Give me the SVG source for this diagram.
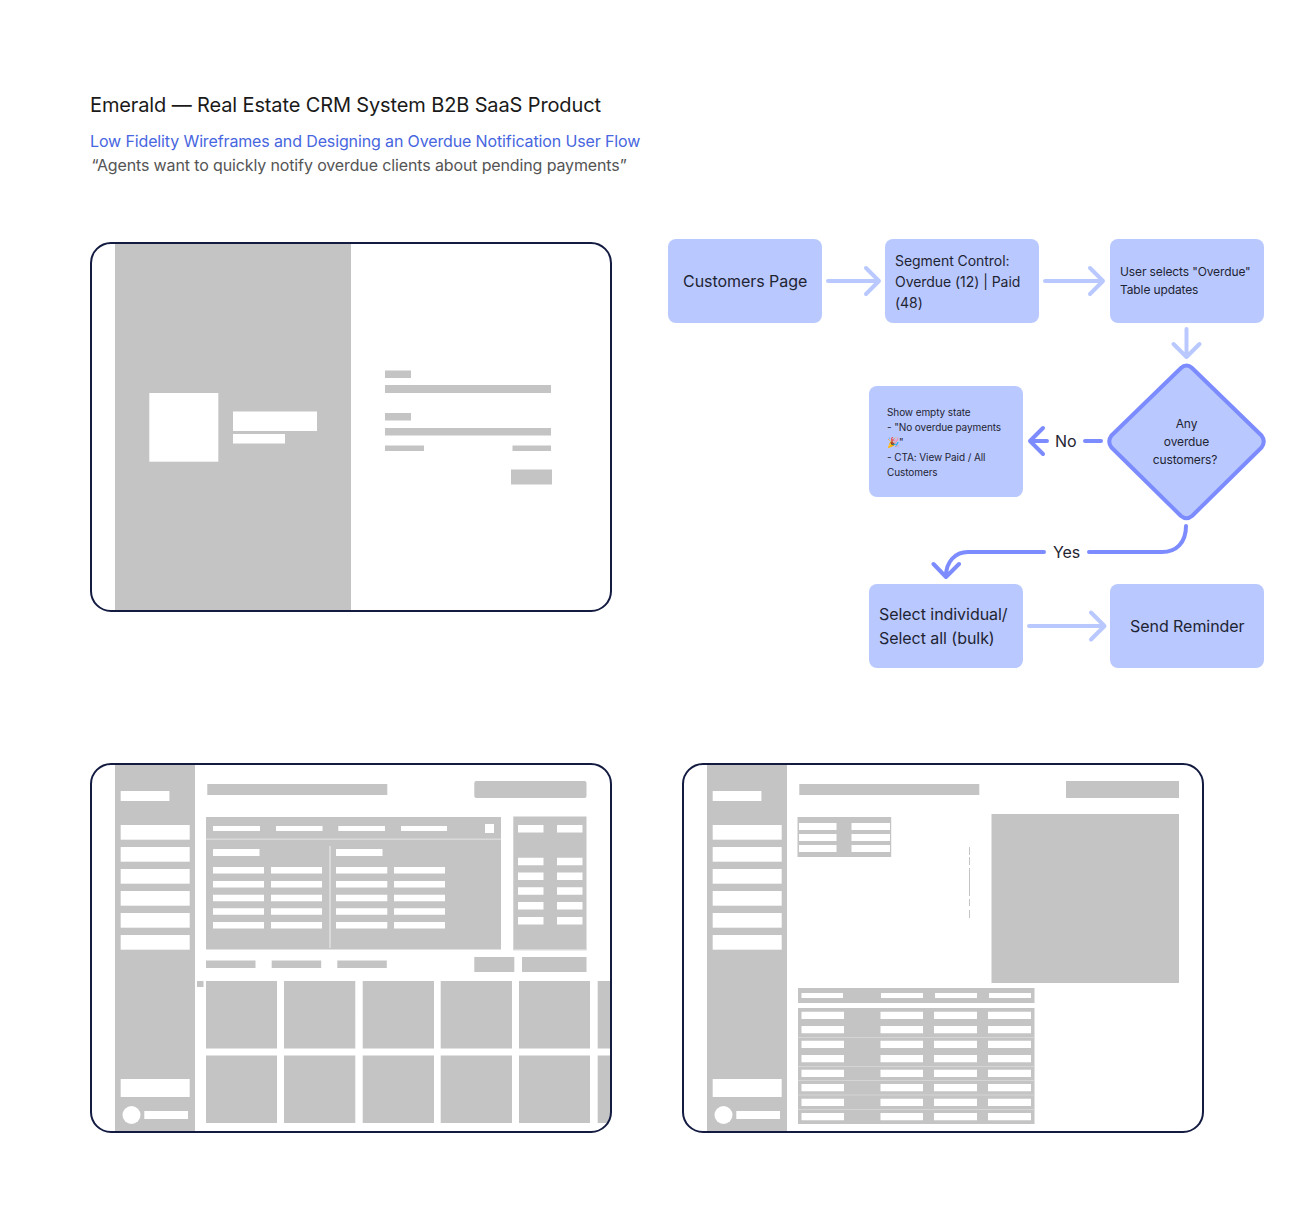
<svg xmlns="http://www.w3.org/2000/svg" width="1294" height="1223" viewBox="0 0 1294 1223">
<style>
text{font-family:Inter,"Noto Sans",sans-serif;fill:#1f2433}
.g{fill:#c4c4c4}.w{fill:#fff}.l{fill:#d9d9d9}
.frame{fill:none;stroke:#141b41;stroke-width:2}
.box{fill:#b9c9ff}
.lite,.dark{fill:none;stroke-width:4;stroke-linecap:round;stroke-linejoin:round}
.lite{stroke:#b9c9ff}.dark{stroke:#7c8cff}
.t16{font-size:16px;letter-spacing:-.05px}.t14{font-size:14px;letter-spacing:-.05px}.t12{font-size:12px;letter-spacing:-.12px}.t10{font-size:10px;letter-spacing:-.09px}
.head{letter-spacing:-.13px}
</style>
<defs>
<clipPath id="f2"><rect x="91" y="764" width="520" height="368" rx="20"/></clipPath>
<g id="nav">
<rect class="g" x="115" y="764" width="80" height="368"/>
<rect class="w" x="120.7" y="791" width="48.7" height="10"/>
<rect class="w" x="120.7" y="825" width="69" height="14.7"/>
<rect class="w" x="120.7" y="847" width="69" height="14.7"/>
<rect class="w" x="120.7" y="869" width="69" height="14.7"/>
<rect class="w" x="120.7" y="891" width="69" height="14.7"/>
<rect class="w" x="120.7" y="913" width="69" height="14.7"/>
<rect class="w" x="120.7" y="935" width="69" height="14.7"/>
<rect class="w" x="120.7" y="1079" width="69" height="18"/>
<circle class="w" cx="131.5" cy="1115" r="9"/>
<rect class="w" x="144.3" y="1111" width="43.7" height="8"/>
</g>
</defs>
<rect width="1294" height="1223" fill="#fff"/>

<g id="heading">
<text x="90" y="112" font-size="20" class="head" style="fill:#1a1a1a">Emerald — Real Estate CRM System B2B SaaS Product</text>
<text x="90" y="147" font-size="16" class="head" style="fill:#4766e0">Low Fidelity Wireframes and Designing an Overdue Notification User Flow</text>
<text x="91.500" y="171" font-size="16" class="head" style="fill:#555">“Agents want to quickly notify overdue clients about pending payments”</text>
</g>

<g id="wireframe-login">
<rect class="g" x="115" y="243" width="236" height="368"/>
<rect class="w" x="149.3" y="393" width="69" height="68.7"/>
<rect class="w" x="233" y="411.5" width="84" height="19.5"/>
<rect class="w" x="233" y="434" width="52" height="9.5"/>
<rect class="g" x="385" y="370.5" width="26" height="7.5"/>
<rect class="g" x="385" y="385" width="166" height="8"/>
<rect class="g" x="385" y="413" width="26" height="7.5"/>
<rect class="g" x="385" y="428" width="166" height="7.5"/>
<rect class="g" x="385" y="445.5" width="39" height="5.5"/>
<rect class="g" x="512.5" y="445.5" width="38.5" height="5.5"/>
<rect class="g" x="511" y="469.5" width="41" height="15"/>
<rect class="frame" x="91" y="243" width="520" height="368" rx="20"/>
</g>

<g id="wireframe-dashboard">
<g clip-path="url(#f2)">
<use href="#nav"/>
<rect class="g" x="207.300" y="784" width="180" height="11"/>
<rect class="g" x="474.300" y="781" width="112.200" height="17" rx="2"/>
<rect class="g" x="206" y="817" width="295" height="132.500"/>
<rect class="w" x="213" y="826" width="47" height="5"/><rect class="w" x="276" y="826" width="46.500" height="5"/><rect class="w" x="338.300" y="826" width="46.700" height="5"/><rect class="w" x="401" y="826" width="46" height="5"/>
<rect class="w" x="485" y="824" width="9" height="9"/>
<rect class="l" x="206" y="838.500" width="295" height="1.500"/>
<rect class="l" x="329" y="846" width="2" height="102"/>
<rect class="w" x="213" y="849" width="46.500" height="7"/><rect class="w" x="336" y="849" width="46.500" height="7"/>
<path class="w" d="M213 867h51v6.500h-51zM271 867h51v6.500h-51zM336 867h51.300v6.500h-51.300zM394 867h51v6.500h-51zM213 881h51v6.500h-51zM271 881h51v6.500h-51zM336 881h51.300v6.500h-51.300zM394 881h51v6.500h-51zM213 894.700h51v6.500h-51zM271 894.700h51v6.500h-51zM336 894.700h51.300v6.500h-51.300zM394 894.700h51v6.500h-51zM213 908.300h51v6.500h-51zM271 908.300h51v6.500h-51zM336 908.300h51.300v6.500h-51.300zM394 908.300h51v6.500h-51zM213 922h51v6.500h-51zM271 922h51v6.500h-51zM336 922h51.300v6.500h-51.300zM394 922h51v6.500h-51z"/>
<rect class="g" x="513.300" y="816.500" width="73.200" height="133.500"/>
<rect class="l" x="513.300" y="949" width="73.200" height="1.500"/>
<path class="w" d="M518 825h25.500v7.500h-25.500zM557 825h25.500v7.500h-25.500zM518 857.700h25.500v7.500h-25.500zM557 857.700h25.500v7.500h-25.500zM518 872.500h25.500v7.500h-25.500zM557 872.500h25.500v7.500h-25.500zM518 887.300h25.500v7.500h-25.500zM557 887.300h25.500v7.500h-25.500zM518 902h25.500v7.500h-25.500zM557 902h25.500v7.500h-25.500zM518 917h25.500v7.500h-25.500zM557 917h25.500v7.500h-25.500z"/>
<rect class="g" x="206" y="960.500" width="49.500" height="7.500"/><rect class="g" x="271.700" y="960.500" width="49.500" height="7.500"/><rect class="g" x="337.300" y="960.500" width="49.500" height="7.500"/>
<rect class="g" x="474.300" y="957" width="40" height="15"/><rect class="g" x="522" y="957" width="64.500" height="15"/>
<rect class="g" x="197" y="981" width="6.500" height="6"/>
<path class="g" d="M206 981h71v67.500h-71zM284 981h71.300v67.500h-71.300zM362.700 981h71.300v67.500h-71.300zM440.700 981h71.300v67.500h-71.300zM519 981h71v67.500h-71zM597.700 981h14v67.500h-14zM206 1055.500h71v67.500h-71zM284 1055.500h71.300v67.500h-71.300zM362.700 1055.500h71.300v67.500h-71.300zM440.700 1055.500h71.300v67.500h-71.300zM519 1055.500h71v67.500h-71zM597.700 1055.500h14v67.500h-14z"/>
</g>
<rect class="frame" x="91" y="764" width="520" height="368" rx="20"/>
</g>

<g id="wireframe-detail">
<use href="#nav" x="592"/>
<rect class="g" x="799.300" y="784" width="180" height="11"/>
<rect class="g" x="1066" y="781" width="113" height="17"/>
<rect class="g" x="797.500" y="817" width="93.700" height="40"/>
<path class="w" d="M799 823h37.500v7h-37.500zM851.500 823h38.500v7h-38.500zM799 834h37.500v7h-37.500zM851.500 834h38.500v7h-38.500zM799 845h37.500v7h-37.500zM851.500 845h38.500v7h-38.500z"/>
<path d="M969.500 847v71" stroke="#c4c4c4" stroke-width="1" stroke-dasharray="8 2 8 3 28 3 7 4 8" fill="none"/>
<rect class="g" x="991.500" y="814" width="187.500" height="169"/>
<rect class="g" x="798" y="988" width="236.500" height="15"/>
<path class="w" d="M801.500 993h41.500v5h-41.500zM881 993h42v5h-42zM935 993h42v5h-42zM989 993h42v5h-42z"/>
<rect class="g" x="798" y="1008" width="236.500" height="116"/>
<path d="M798 1037.500h236.500M798 1066.500h236.500M798 1080.500h236.500M798 1095h236.500M798 1109.500h236.500" stroke="#d9d9d9" stroke-width=".8" fill="none"/>
<path class="w" d="M801.500 1011.700h42.500v7.300h-42.500zM880.500 1011.700h42.500v7.300h-42.500zM934 1011.700h43v7.300h-43zM988 1011.700h43v7.300h-43zM801.500 1026h42.500v7.300h-42.500zM880.500 1026h42.500v7.300h-42.500zM934 1026h43v7.300h-43zM988 1026h43v7.300h-43zM801.500 1040.700h42.500v7.300h-42.500zM880.500 1040.700h42.500v7.300h-42.500zM934 1040.700h43v7.300h-43zM988 1040.700h43v7.300h-43zM801.500 1055h42.500v7.300h-42.500zM880.500 1055h42.500v7.300h-42.500zM934 1055h43v7.300h-43zM988 1055h43v7.300h-43zM801.500 1069.700h42.500v7.300h-42.500zM880.500 1069.700h42.500v7.300h-42.500zM934 1069.700h43v7.300h-43zM988 1069.700h43v7.300h-43zM801.500 1084h42.500v7.300h-42.500zM880.500 1084h42.500v7.300h-42.500zM934 1084h43v7.300h-43zM988 1084h43v7.300h-43zM801.500 1098.700h42.500v7.300h-42.500zM880.500 1098.700h42.500v7.300h-42.500zM934 1098.700h43v7.300h-43zM988 1098.700h43v7.300h-43zM801.500 1113h42.500v7.300h-42.500zM880.500 1113h42.500v7.300h-42.500zM934 1113h43v7.300h-43zM988 1113h43v7.300h-43z"/>
<rect class="frame" x="683" y="764" width="520" height="368" rx="20"/>
</g>

<g id="connectors">
<path class="lite" d="M828 281H879M866 268L879 281L866 294"/>
<path class="lite" d="M1045 281H1103M1090 268L1103 281L1090 294"/>
<path class="lite" d="M1186.500 329V357M1173.500 344L1186.500 357L1199.500 344"/>
<path class="dark" d="M1085 441H1101M1047 441H1030M1043 428L1030 441L1043 454"/>
<path class="dark" d="M1186 526C1186 543 1176 552 1162 552H1089M1044 552H968C955 552 946 562 946 576M933.500 564L946 577L959 564"/>
<path class="lite" d="M1029 626H1104M1091 612.500L1104.500 626L1091 639.500"/>
</g>

<g id="node-customers">
<rect class="box" x="668" y="239" width="154" height="84" rx="8"/>
<text x="683" y="287" class="t16">Customers Page</text>
</g>
<g id="node-segment">
<rect class="box" x="885" y="239" width="154" height="84" rx="8"/>
<text class="t14"><tspan x="895" y="265.500">Segment Control:</tspan><tspan x="895" y="286.500">Overdue (12) | Paid</tspan><tspan x="895" y="307.500">(48)</tspan></text>
</g>
<g id="node-selects">
<rect class="box" x="1110" y="239" width="154" height="84" rx="8"/>
<text class="t12"><tspan x="1120" y="276">User selects "Overdue"</tspan><tspan x="1120" y="294">Table updates</tspan></text>
</g>
<g id="node-decision">
<path d="M1186.500 365.500Q1189.500 365.500 1192 368L1261.500 435.500Q1266 441.500 1261.500 447.500L1192 516Q1186.500 520.500 1181 516L1111.500 447.500Q1107 441.500 1111.500 435.500L1181 368Q1183.500 365.500 1186.500 365.500Z" fill="#b9c9ff" stroke="#7c8cff" stroke-width="4" stroke-linejoin="round"/>
<text class="t12" text-anchor="middle"><tspan x="1186.500" y="428">Any</tspan><tspan x="1186.500" y="446">overdue</tspan><tspan x="1185" y="464">customers?</tspan></text>
</g>
<g id="node-empty">
<rect class="box" x="869" y="386" width="154" height="111" rx="8"/>
<text class="t10"><tspan x="887" y="416">Show empty state</tspan><tspan x="887" y="431">- "No overdue payments</tspan><tspan x="887" y="446">🎉"</tspan><tspan x="887" y="461">- CTA: View Paid / All</tspan><tspan x="887" y="476">Customers</tspan></text>
</g>
<g id="node-select">
<rect class="box" x="869" y="584" width="154" height="84" rx="8"/>
<text class="t16"><tspan x="879" y="620">Select individual/</tspan><tspan x="879" y="644">Select all (bulk)</tspan></text>
</g>
<g id="node-send">
<rect class="box" x="1110" y="584" width="154" height="84" rx="8"/>
<text x="1130" y="632" class="t16">Send Reminder</text>
</g>
<g id="edge-labels">
<text x="1055" y="447" class="t16">No</text>
<text x="1053" y="558" class="t16">Yes</text>
</g>
</svg>
